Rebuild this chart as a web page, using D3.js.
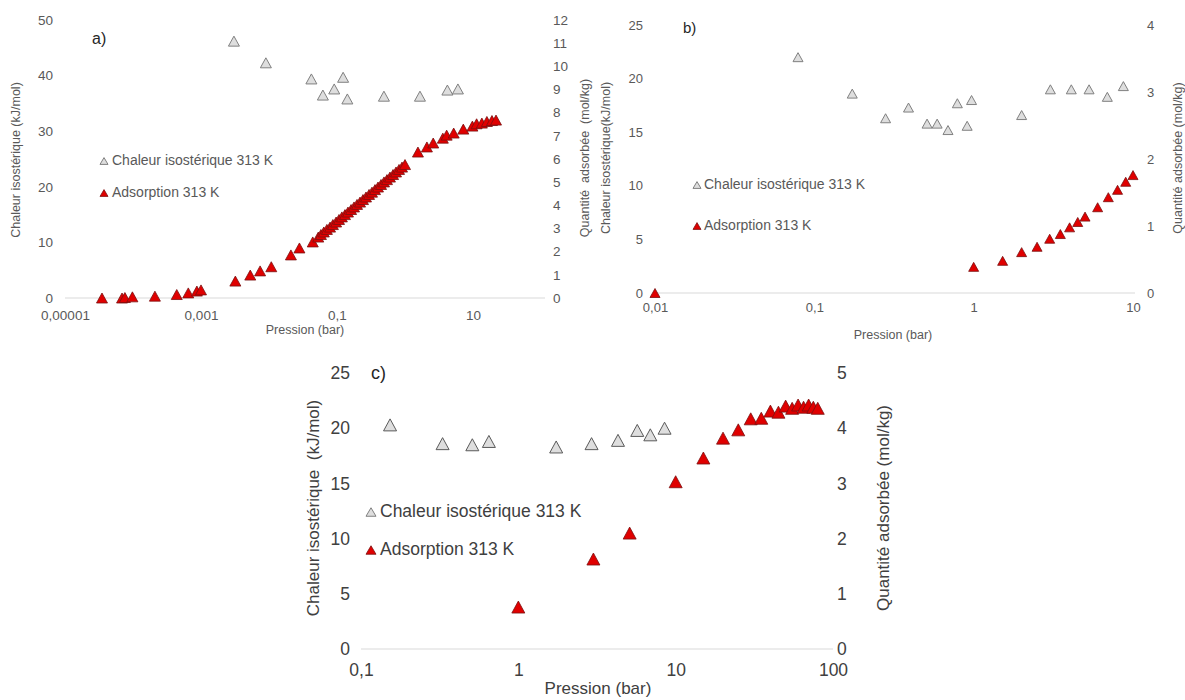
<!DOCTYPE html>
<html><head><meta charset="utf-8">
<script src="https://cdn.jsdelivr.net/npm/d3@7"></script>
<style>
html,body{margin:0;padding:0;background:#fff;}
svg{display:block;font-family:"Liberation Sans",Arial,sans-serif;}
</style></head>
<body>
<svg id="chart" width="1185" height="700"></svg>
<script>
// ---------- Panel a data ----------
const aXTicks = [0.00001, 0.001, 0.1, 10];
const aXLabels = ["0,00001", "0,001", "0,1", "10"];
const aLeftTicks = [0, 10, 20, 30, 40, 50];
const aRightTicks = [0,1,2,3,4,5,6,7,8,9,10,11,12];
const aHeatP = [0.00305, 0.009, 0.042, 0.062, 0.091, 0.123, 0.142, 0.49, 1.66, 4.2, 6.0];
const aHeatQ = [46.2, 42.3, 39.4, 36.5, 37.6, 39.7, 35.8, 36.3, 36.3, 37.4, 37.6];
const aAdsP = [0.000035, 0.000069, 0.000076, 0.000098, 0.00021, 0.00044, 0.00065, 0.00087, 0.0010,
  0.0032, 0.0053, 0.0074, 0.0108, 0.021, 0.028, 0.044,
  0.053, 0.058, 0.064, 0.071, 0.079, 0.087, 0.097, 0.107, 0.118, 0.131, 0.145, 0.161, 0.178, 0.197,
  0.218, 0.241, 0.267, 0.296, 0.327, 0.362, 0.401, 0.444, 0.491, 0.543, 0.601, 0.667, 0.738, 0.817, 0.904, 1.0,
  1.55, 2.1, 2.6, 3.6, 4.1, 5.2, 7.2, 9.8, 11.3, 13.5, 16, 19, 21.8];
const aAdsQ = [0, 0, 0.02, 0.05, 0.08, 0.15, 0.22, 0.30, 0.35,
  0.73, 0.99, 1.17, 1.35, 1.86, 2.16, 2.42,
  2.63, 2.74, 2.85, 2.96, 3.06, 3.17, 3.28, 3.39, 3.50, 3.60, 3.71, 3.82, 3.93, 4.04,
  4.14, 4.25, 4.36, 4.47, 4.57, 4.68, 4.79, 4.90, 5.01, 5.11, 5.22, 5.33, 5.44, 5.55, 5.65, 5.76,
  6.30, 6.52, 6.69, 6.90, 7.03, 7.12, 7.29, 7.42, 7.52, 7.55, 7.62, 7.66, 7.68];

// ---------- Panel b data ----------
const bXTicks = [0.01, 0.1, 1, 10];
const bXLabels = ["0,01", "0,1", "1", "10"];
const bLeftTicks = [0, 5, 10, 15, 20, 25];
const bRightTicks = [0, 1, 2, 3, 4];
const bHeatP = [0.079, 0.173, 0.28, 0.39, 0.51, 0.59, 0.69, 0.79, 0.91, 0.97, 2.0, 3.03, 4.1, 5.3, 6.9, 8.7];
const bHeatQ = [22.0, 18.6, 16.3, 17.3, 15.8, 15.8, 15.2, 17.7, 15.6, 18.0, 16.6, 19.0, 19.0, 19.0, 18.3, 19.3];
const bAdsP = [0.01, 1.0, 1.52, 2.0, 2.5, 3.0, 3.5, 4.0, 4.5, 5.0, 6.0, 7.0, 8.0, 9.0, 10.0];
const bAdsQ = [0, 0.39, 0.48, 0.61, 0.69, 0.81, 0.88, 0.98, 1.06, 1.14, 1.28, 1.43, 1.54, 1.66, 1.76];

// ---------- Panel c data ----------
const cXTicks = [0.1, 1, 10, 100];
const cXLabels = ["0,1", "1", "10", "100"];
const cLeftTicks = [0, 5, 10, 15, 20, 25];
const cRightTicks = [0, 1, 2, 3, 4, 5];
const cHeatP = [0.153, 0.33, 0.51, 0.65, 1.74, 2.92, 4.3, 5.7, 6.9, 8.5];
const cHeatQ = [20.3, 18.6, 18.5, 18.8, 18.3, 18.6, 18.9, 19.8, 19.4, 20.0];
const cAdsP = [1.0, 3.0, 5.1, 10, 15, 20, 25, 30, 35, 40, 45, 50, 55, 60, 65, 70, 75, 80];
const cAdsQ = [0.76, 1.63, 2.10, 3.03, 3.46, 3.82, 3.97, 4.17, 4.18, 4.31, 4.29, 4.40, 4.36, 4.42, 4.38, 4.42, 4.38, 4.36];

const heatLegend = "Chaleur isostérique 313 K";
const adsLegend = "Adsorption 313 K";

const svg = d3.select("#chart");

function tri(w, h) {
  return `M0,${-h/2}L${w/2},${h/2}L${-w/2},${h/2}Z`;
}

function drawPanel(c) {
  const g = svg.append("g");
  const x = d3.scaleLog().domain(c.xDomain).range(c.xRange);
  const yL = d3.scaleLinear().domain(c.lDomain).range([c.yBase, c.yTop]);
  const yR = d3.scaleLinear().domain(c.rDomain).range([c.yBase, c.yTop]);

  g.append("line").attr("x1", c.xRange[0]).attr("x2", c.lineEnd)
    .attr("y1", c.yBase).attr("y2", c.yBase).attr("stroke", "#d9d9d9").attr("stroke-width", 1);

  const xa = g.append("g").attr("transform", `translate(0,${c.yBase})`)
    .call(d3.axisBottom(x).tickValues(c.xTicks).tickSize(0).tickPadding(c.xPad)
      .tickFormat((d, i) => c.xLabels[i]));
  xa.select(".domain").remove();
  xa.selectAll("text").attr("font-size", c.fs).attr("fill", c.col).attr("font-family", "Liberation Sans, Arial, sans-serif");

  const la = g.append("g").attr("transform", `translate(${c.lAxisX},0)`)
    .call(d3.axisLeft(yL).tickValues(c.lTicks).tickSize(0).tickPadding(0).tickFormat(d3.format("d")));
  la.select(".domain").remove();
  la.selectAll("text").attr("font-size", c.fs).attr("fill", c.col).attr("font-family", "Liberation Sans, Arial, sans-serif");

  const ra = g.append("g").attr("transform", `translate(${c.rAxisX},0)`)
    .call(d3.axisRight(yR).tickValues(c.rTicks).tickSize(0).tickPadding(0).tickFormat(d3.format("d")));
  ra.select(".domain").remove();
  ra.selectAll("text").attr("font-size", c.fs).attr("fill", c.col).attr("font-family", "Liberation Sans, Arial, sans-serif");

  g.append("text").attr("x", c.xTitle[0]).attr("y", c.xTitle[1]).attr("text-anchor", "middle")
    .attr("dominant-baseline", "middle").attr("font-size", c.tfs).attr("fill", c.col).text("Pression (bar)");
  g.append("text").attr("transform", `translate(${c.lTitle[0]},${c.lTitle[1]}) rotate(-90)`)
    .attr("text-anchor", "middle").attr("dominant-baseline", "middle").attr("font-size", c.tfs)
    .attr("fill", c.col).style("white-space", "pre").text(c.lTitleText);
  g.append("text").attr("transform", `translate(${c.rTitle[0]},${c.rTitle[1]}) rotate(-90)`)
    .attr("text-anchor", "middle").attr("dominant-baseline", "middle").attr("font-size", c.tfs)
    .attr("fill", c.col).style("white-space", "pre").text(c.rTitleText);
  g.append("text").attr("x", c.tag[0]).attr("y", c.tag[1]).attr("dominant-baseline", "middle")
    .attr("font-size", c.tagfs).attr("fill", "#262626").text(c.tagText);

  g.append("g").selectAll("path").data(c.heatP.map((p, i) => [p, c.heatQ[i]])).join("path")
    .attr("d", tri(c.mw, c.mh))
    .attr("transform", d => `translate(${x(d[0])},${yL(d[1])})`)
    .attr("fill", "#dedede").attr("stroke", c.grayStroke).attr("stroke-width", 1);
  g.append("g").selectAll("path").data(c.adsP.map((p, i) => [p, c.adsQ[i]])).join("path")
    .attr("d", tri(c.mw, c.mh))
    .attr("transform", d => `translate(${x(d[0])},${yR(d[1])})`)
    .attr("fill", "#e00000").attr("stroke", "#7a1010").attr("stroke-width", 0.8);

  const lg = g.append("g");
  lg.append("path").attr("d", tri(c.lw, c.lw * 0.85)).attr("transform", `translate(${c.leg[0]},${c.leg[1]})`)
    .attr("fill", "#dedede").attr("stroke", "#808080").attr("stroke-width", 1);
  lg.append("text").attr("x", c.leg[0] + c.legDx).attr("y", c.leg[1]).attr("dominant-baseline", "middle")
    .attr("font-size", c.lfs).attr("fill", c.col).text(heatLegend);
  lg.append("path").attr("d", tri(c.lw, c.lw * 0.85)).attr("transform", `translate(${c.leg[0]},${c.leg[2]})`)
    .attr("fill", "#e00000").attr("stroke", "#7a1010").attr("stroke-width", 0.8);
  lg.append("text").attr("x", c.leg[0] + c.legDx).attr("y", c.leg[2]).attr("dominant-baseline", "middle")
    .attr("font-size", c.lfs).attr("fill", c.col).text(adsLegend);
}

drawPanel({
  xDomain: [1e-5, 100], xRange: [65, 541], lineEnd: 545, yBase: 298, yTop: 20,
  xTicks: aXTicks, xLabels: aXLabels, lDomain: [0, 50], lTicks: aLeftTicks, rDomain: [0, 12], rTicks: aRightTicks,
  lAxisX: 53, rAxisX: 553, xPad: 12, fs: 13.5, tfs: 12.5, col: "#595959",
  xTitle: [305, 331], lTitle: [17, 160], rTitle: [586, 158],
  lTitleText: "Chaleur isostérique (kJ/mol)", rTitleText: "Quantité  adsorbée  (mol/kg)",
  tag: [92, 40], tagText: "a)", tagfs: 16,
  heatP: aHeatP, heatQ: aHeatQ, adsP: aAdsP, adsQ: aAdsQ, mw: 11, mh: 10, grayStroke: "#808080",
  leg: [104, 161, 193], legDx: 8, lw: 8, lfs: 14
});

drawPanel({
  xDomain: [0.01, 10], xRange: [655, 1133], lineEnd: 1135, yBase: 293, yTop: 25,
  xTicks: bXTicks, xLabels: bXLabels, lDomain: [0, 25], lTicks: bLeftTicks, rDomain: [0, 4], rTicks: bRightTicks,
  lAxisX: 643, rAxisX: 1147, xPad: 10, fs: 13, tfs: 12.5, col: "#595959",
  xTitle: [893, 336], lTitle: [607, 158], rTitle: [1179, 158],
  lTitleText: "Chaleur isostérique(kJ/mol)", rTitleText: "Quantité adsorbée (mol/kg)",
  tag: [683, 29], tagText: "b)", tagfs: 15,
  heatP: bHeatP, heatQ: bHeatQ, adsP: bAdsP, adsQ: bAdsQ, mw: 10, mh: 9, grayStroke: "#808080",
  leg: [697, 185, 226], legDx: 7, lw: 8, lfs: 14
});

drawPanel({
  xDomain: [0.1, 100], xRange: [361, 833], lineEnd: 833, yBase: 649, yTop: 373,
  xTicks: cXTicks, xLabels: cXLabels, lDomain: [0, 25], lTicks: cLeftTicks, rDomain: [0, 5], rTicks: cRightTicks,
  lAxisX: 350, rAxisX: 837, xPad: 15, fs: 17.5, tfs: 17, col: "#404040",
  xTitle: [598, 690], lTitle: [315, 508], rTitle: [885, 508],
  lTitleText: "Chaleur isostérique  (kJ/mol)", rTitleText: "Quantité adsorbée (mol/kg)",
  tag: [371, 374], tagText: "c)", tagfs: 18,
  heatP: cHeatP, heatQ: cHeatQ, adsP: cAdsP, adsQ: cAdsQ, mw: 13, mh: 12, grayStroke: "#5a5a5a",
  leg: [371, 512, 550], legDx: 9, lw: 10, lfs: 17.5
});
</script>
</body></html>
